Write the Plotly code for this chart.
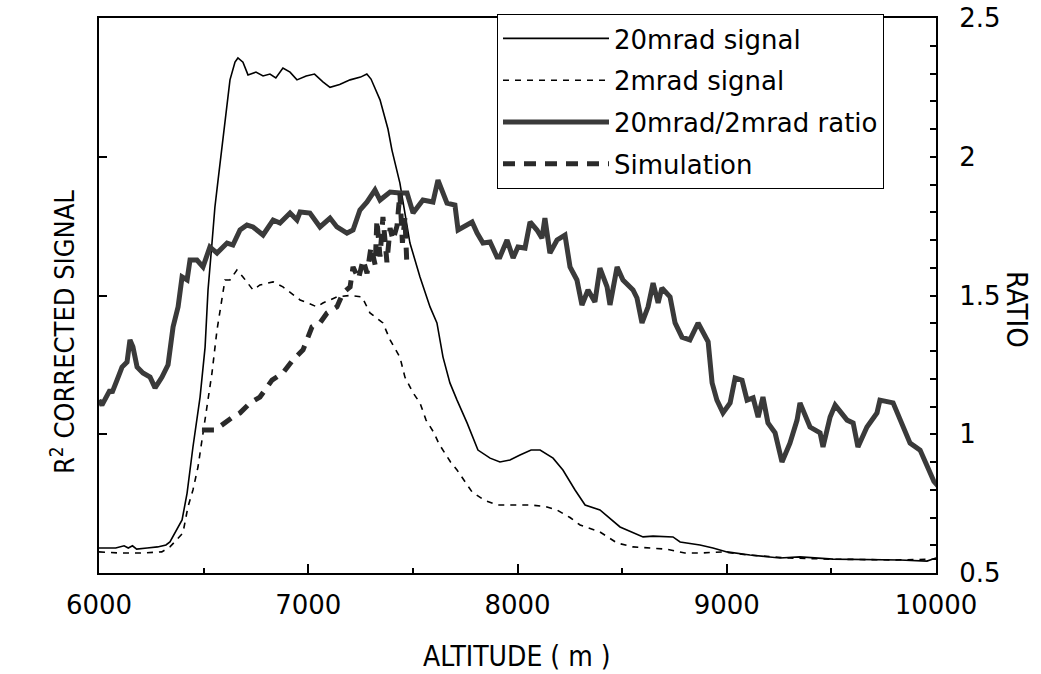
import plotly.graph_objects as go

# ---------------- data ----------------
alt_20 = [6000, 6080, 6120, 6140, 6160, 6180, 6230, 6280, 6320, 6339, 6397, 6421, 6449, 6483,
          6507, 6521, 6540, 6554, 6569, 6602, 6626, 6650, 6664, 6688, 6712, 6750, 6784, 6817,
          6845, 6879, 6913, 6946, 6990, 7030, 7070, 7104, 7150, 7200, 7250, 7280, 7300, 7343,
          7381, 7400, 7438, 7486, 7534, 7582, 7615, 7644, 7677, 7711, 7759, 7811, 7869, 7916,
          7964, 8012, 8065, 8108, 8170, 8217, 8275, 8323, 8394, 8490, 8600, 8648, 8743, 8777,
          8872, 8934, 9001, 9111, 9254, 9350, 9508, 9828, 9957, 10000, 10040]
sig_20 = [0.090, 0.090, 0.098, 0.090, 0.098, 0.086, 0.090, 0.094, 0.101, 0.112, 0.191, 0.288,
          0.454, 0.634, 0.814, 1.020, 1.189, 1.319, 1.416, 1.632, 1.777, 1.841, 1.856, 1.841,
          1.795, 1.805, 1.791, 1.798, 1.784, 1.820, 1.805, 1.777, 1.791, 1.798, 1.770, 1.750,
          1.760, 1.777, 1.787, 1.798, 1.780, 1.705, 1.600, 1.524, 1.405, 1.189, 1.067, 0.959,
          0.901, 0.778, 0.685, 0.623, 0.541, 0.443, 0.414, 0.400, 0.407, 0.425, 0.443, 0.443,
          0.414, 0.371, 0.299, 0.245, 0.227, 0.166, 0.130, 0.133, 0.130, 0.112, 0.101, 0.090,
          0.076, 0.065, 0.054, 0.058, 0.050, 0.047, 0.043, 0.054, 0.058]

alt_2 = [6000, 6100, 6200, 6300, 6339, 6401, 6425, 6449, 6473, 6492, 6516, 6540, 6564, 6588,
         6602, 6626, 6659, 6688, 6736, 6769, 6832, 6879, 6961, 7042, 7070, 7137, 7200, 7257,
         7295, 7357, 7391, 7438, 7462, 7501, 7534, 7563, 7601, 7625, 7680, 7711, 7783, 7840,
         7902, 7979, 8060, 8131, 8189, 8251, 8299, 8394, 8476, 8552, 8711, 8800, 8872, 8982,
         9100, 9300, 9500, 9800, 10000]
sig_2 = [0.076, 0.072, 0.072, 0.076, 0.094, 0.144, 0.238, 0.299, 0.382, 0.479, 0.598, 0.721,
         0.876, 0.995, 1.056, 1.056, 1.092, 1.067, 1.020, 1.038, 1.049, 1.031, 0.984, 0.959,
         0.973, 0.995, 1.000, 0.995, 0.937, 0.901, 0.840, 0.778, 0.706, 0.649, 0.613, 0.551,
         0.505, 0.465, 0.400, 0.371, 0.292, 0.263, 0.245, 0.245, 0.245, 0.240, 0.227, 0.200,
         0.173, 0.148, 0.108, 0.094, 0.086, 0.072, 0.072, 0.076, 0.065, 0.054, 0.050, 0.047,
         0.050]

alt_ratio = [6000, 6014, 6053, 6062, 6086, 6110, 6134, 6148, 6162, 6182, 6210, 6244, 6268,
             6301, 6330, 6354, 6378, 6397, 6421, 6435, 6468, 6497, 6530, 6564, 6612, 6640,
             6674, 6707, 6736, 6784, 6832, 6865, 6913, 6946, 6961, 7008, 7056, 7104, 7137,
             7185, 7214, 7247, 7281, 7319, 7343, 7391, 7438, 7472, 7501, 7548, 7596, 7620,
             7663, 7701, 7716, 7783, 7807, 7835, 7869, 7902, 7916, 7950, 7979, 8002, 8036,
             8060, 8093, 8117, 8131, 8155, 8189, 8227, 8251, 8284, 8308, 8337, 8370, 8394,
             8428, 8442, 8476, 8504, 8552, 8571, 8595, 8624, 8648, 8672, 8690, 8729, 8753,
             8786, 8824, 8863, 8911, 8930, 8953, 8982, 9016, 9040, 9073, 9097, 9126, 9150,
             9173, 9197, 9231, 9264, 9302, 9336, 9350, 9398, 9446, 9460, 9494, 9518, 9575,
             9604, 9627, 9670, 9718, 9732, 9795, 9828, 9876, 9924, 9957, 9990, 10019, 10060]
ratio = [1.123, 1.105, 1.160, 1.149, 1.195, 1.242, 1.260, 1.340, 1.315, 1.242, 1.221, 1.206,
         1.167, 1.206, 1.250, 1.387, 1.459, 1.567, 1.556, 1.628, 1.628, 1.603, 1.675, 1.653,
         1.689, 1.682, 1.736, 1.754, 1.747, 1.718, 1.772, 1.761, 1.797, 1.772, 1.801, 1.797,
         1.747, 1.779, 1.747, 1.725, 1.736, 1.808, 1.837, 1.880, 1.844, 1.873, 1.869, 1.869,
         1.797, 1.844, 1.837, 1.916, 1.833, 1.826, 1.736, 1.765, 1.725, 1.689, 1.693, 1.639,
         1.639, 1.700, 1.635, 1.675, 1.671, 1.765, 1.736, 1.707, 1.779, 1.653, 1.700, 1.718,
         1.603, 1.556, 1.466, 1.520, 1.477, 1.599, 1.531, 1.466, 1.603, 1.556, 1.520, 1.491,
         1.401, 1.459, 1.545, 1.473, 1.527, 1.495, 1.401, 1.350, 1.340, 1.401, 1.333, 1.185,
         1.123, 1.077, 1.113, 1.203, 1.195, 1.123, 1.131, 1.062, 1.134, 1.041, 1.005, 0.900,
         0.968, 1.051, 1.113, 1.026, 1.005, 0.954, 1.062, 1.105, 1.051, 1.041, 0.954, 1.026,
         1.077, 1.123, 1.113, 1.051, 0.968, 0.943, 0.882, 0.830, 0.806, 0.900, 0.990]

alt_sim = [6492, 6554, 6640, 6674, 6722, 6769, 6827, 6879, 6927, 6975, 7018, 7056, 7090, 7137,
           7166, 7200, 7214, 7240, 7262, 7281, 7300, 7320, 7328, 7343, 7357, 7376, 7391, 7405,
           7424, 7438, 7450, 7462, 7472]
sim = [1.015, 1.015, 1.062, 1.077, 1.113, 1.134, 1.195, 1.221, 1.268, 1.304, 1.387, 1.401,
       1.437, 1.459, 1.509, 1.531, 1.603, 1.560, 1.628, 1.580, 1.675, 1.610, 1.772, 1.640,
       1.783, 1.620, 1.743, 1.700, 1.750, 1.869, 1.690, 1.780, 1.600]

x_ticks = [6000, 7000, 8000, 9000, 10000]
x_labels = ["6000", "7000", "8000", "9000", "10000"]
ratio_ticks = [0.5, 1, 1.5, 2, 2.5]
ratio_labels = ["0.5", "1", "1.5", "2", "2.5"]

# ---------------- figure ----------------
FONT = "DejaVu Sans, Liberation Sans, Arial, sans-serif"
NARROW = "DejaVu Sans Condensed, Liberation Sans Narrow, Arial Narrow, Liberation Sans, sans-serif"

W, H = 1041, 674
ML, MR, MT, MB = 99, 105, 18, 101

fig = go.Figure()
fig.add_trace(go.Scatter(x=alt_20, y=sig_20, name="20mrad signal", mode="lines",
                         line=dict(color="black", width=1.6), legendgroup="a", yaxis="y"))
fig.add_trace(go.Scatter(x=alt_2, y=sig_2, name="2mrad signal", mode="lines",
                         line=dict(color="black", width=1.6, dash="6px,6px"), legendgroup="b",
                         yaxis="y"))
fig.add_trace(go.Scatter(x=alt_ratio, y=ratio, name="20mrad/2mrad ratio", mode="lines",
                         line=dict(color="#3a3a3a", width=5), legendgroup="c", yaxis="y2"))
fig.add_trace(go.Scatter(x=alt_sim, y=sim, name="Simulation", mode="lines",
                         line=dict(color="#2a2a2a", width=5, dash="12px,9px"), legendgroup="d",
                         yaxis="y2"))

axis_common = dict(showline=True, linecolor="black", linewidth=2, showgrid=False,
                   zeroline=False, ticks="inside", tickcolor="black", tickwidth=2,
                   automargin=False)

fig.update_layout(
    width=W, height=H,
    margin=dict(l=ML, r=MR, t=MT, b=MB, autoexpand=False),
    paper_bgcolor="white", plot_bgcolor="white",
    font=dict(family=FONT, color="black", size=26),
    xaxis=dict(range=[6000, 10000], tickvals=x_ticks, ticktext=x_labels, ticklen=9, mirror=True,
               minor=dict(dtick=500, ticks="inside", ticklen=5, tickcolor="black", tickwidth=2),
               tickfont=dict(size=26), ticklabelstandoff=8,
               **axis_common),
    yaxis=dict(range=[0, 2], tickvals=[0.5, 1.0, 1.5], showticklabels=False, ticklen=8,
               **axis_common),
    yaxis2=dict(range=[0.5, 2.5], overlaying="y", side="right", tickvals=ratio_ticks,
                ticktext=ratio_labels, ticklen=6,
                minor=dict(dtick=0.1, ticks="inside", ticklen=6, tickcolor="black",
                           tickwidth=2),
                tickfont=dict(size=26), ticklabelstandoff=16,
                **axis_common),
    legend=dict(xref="container", yref="container", x=497 / W, y=1 - 14 / H,
                xanchor="left", yanchor="top",
                bgcolor="white", bordercolor="black", borderwidth=1,
                font=dict(family=FONT, size=26), itemwidth=106, tracegroupgap=5,
                traceorder="grouped", entrywidth=300, entrywidthmode="pixels"),
    annotations=[
        dict(text="ALTITUDE ( m )", xref="paper", yref="paper",
             x=(517 - ML) / (W - ML - MR), y=-(656 - (H - MB)) / (H - MT - MB),
             showarrow=False, xanchor="center", yanchor="middle",
             font=dict(family=NARROW, size=28)),
        dict(text="R<sup>2</sup> CORRECTED SIGNAL", xref="paper", yref="paper",
             x=-(ML - 62) / (W - ML - MR), y=((H - MB) - 332) / (H - MT - MB),
             showarrow=False, textangle=-90, xanchor="center", yanchor="middle",
             font=dict(family=NARROW, size=27)),
        dict(text="RATIO", xref="paper", yref="paper",
             x=(1017 - ML) / (W - ML - MR), y=((H - MB) - 310) / (H - MT - MB),
             showarrow=False, textangle=90, xanchor="center", yanchor="middle",
             font=dict(family=NARROW, size=29)),
    ],
)

fig.write_html("out.html", config={"displayModeBar": False},
               post_script="document.body.style.margin='0px';")
